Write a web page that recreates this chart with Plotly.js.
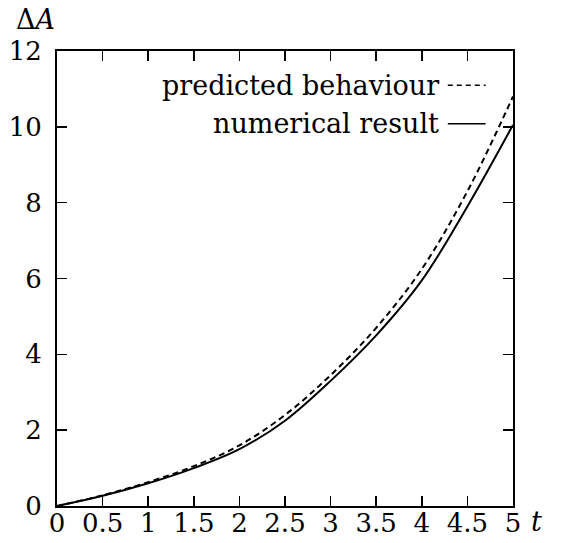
<!DOCTYPE html>
<html>
<head>
<meta charset="utf-8">
<script src="https://cdn.plot.ly/plotly-3.0.1.min.js"></script>
<style>
  html, body { margin: 0; padding: 0; background: #fff; }
  #chart { width: 566px; height: 543px; }
</style>
</head>
<body>
<div id="chart"></div>
<script>
// Time samples and the two growth curves of ΔA(t)
const tValues = [0, 0.5, 1, 1.5, 2, 2.5, 3, 3.5, 4, 4.5, 5];
const predicted = [0, 0.28, 0.63, 1.05, 1.6, 2.4, 3.45, 4.7, 6.25, 8.3, 10.8];
const numerical = [0, 0.27, 0.6, 1.0, 1.5, 2.25, 3.3, 4.5, 5.95, 7.9, 10.05];

const xTicks = [0, 0.5, 1, 1.5, 2, 2.5, 3, 3.5, 4, 4.5, 5];
const xTickText = ['0', '0.5', '1', '1.5', '2', '2.5', '3', '3.5', '4', '4.5', '5'];
const yTicks = [0, 2, 4, 6, 8, 10, 12];

const legendLabels = ['predicted behaviour', 'numerical result'];

const FONT = '"DejaVu Serif", serif';

const traces = [
  {
    x: tValues, y: predicted, mode: 'lines', name: legendLabels[0],
    line: { color: '#000', width: 2, dash: '6px,4px', shape: 'spline' },
    showlegend: false, hoverinfo: 'skip'
  },
  {
    x: tValues, y: numerical, mode: 'lines', name: legendLabels[1],
    line: { color: '#000', width: 2, shape: 'spline' },
    showlegend: false, hoverinfo: 'skip'
  }
];

const axisCommon = {
  showgrid: false, zeroline: false,
  showline: true, linecolor: '#000', linewidth: 2,
  mirror: 'ticks', ticks: 'inside', ticklen: 10, tickwidth: 1.5, tickcolor: '#000',
  tickfont: { family: FONT, size: 26, color: '#000' }
};

// Legend rows: text on the left, line sample on the right (paper coords)
const legendY = [0.925, 0.84];
const annotations = legendLabels.map((lab, i) => ({
  xref: 'paper', yref: 'paper', x: 0.843, y: legendY[i],
  text: lab, showarrow: false, xanchor: 'right', yanchor: 'middle',
  font: { family: FONT, size: 27, color: '#000' }
}));
annotations.push({
  xref: 'paper', yref: 'paper', x: -0.095, y: 1.03,
  text: 'Δ<i>A</i>', showarrow: false, xanchor: 'left', yanchor: 'bottom',
  font: { family: FONT, size: 27, color: '#000' }
});
annotations.push({
  xref: 'paper', yref: 'paper', x: 1.052, y: -0.035,
  text: '<i>t</i>', showarrow: false, xanchor: 'center', yanchor: 'middle',
  font: { family: FONT, size: 27, color: '#000' }
});

const shapes = legendY.map((yy, i) => ({
  type: 'line', xref: 'paper', yref: 'paper',
  x0: 0.857, x1: 0.94, y0: yy, y1: yy,
  line: { color: '#000', width: 1.5, dash: i === 0 ? '5px,4px' : 'solid' }
}));

const layout = {
  width: 566, height: 543,
  margin: { l: 57, r: 53, t: 51, b: 37, pad: 0 },
  paper_bgcolor: '#fff', plot_bgcolor: '#fff',
  font: { family: FONT, color: '#000' },
  xaxis: Object.assign({}, axisCommon, {
    range: [0, 5], tickvals: xTicks, ticktext: xTickText, ticklabelstandoff: -7
  }),
  yaxis: Object.assign({}, axisCommon, {
    range: [0, 12], tickvals: yTicks, ticklabelstandoff: 8
  }),
  annotations: annotations,
  shapes: shapes
};

Plotly.newPlot('chart', traces, layout, { staticPlot: true, displayModeBar: false });
</script>
</body>
</html>
